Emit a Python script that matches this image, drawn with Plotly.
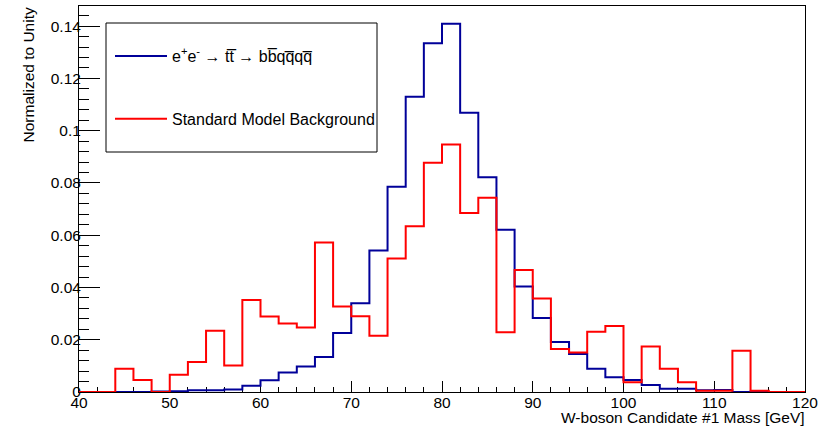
import plotly.graph_objects as go

# ---- data ----
bin_edges = list(range(40, 122, 2))  # 40..120, 2 GeV bins
signal_name = "e<sup>+</sup>e<sup>-</sup> \u2192 tt\u0305 \u2192 bb\u0305qq\u0305qq\u0305"
background_name = "Standard Model Background"
signal_vals = [0, 0, 0, 0, 0.0002, 0.0003, 0.0007, 0.0007, 0.0010, 0.0024,
               0.0045, 0.0075, 0.0098, 0.0134, 0.0226, 0.0340, 0.0541, 0.0785, 0.1130, 0.1334,
               0.1409, 0.1069, 0.0822, 0.0621, 0.0404, 0.0283, 0.0191, 0.0145, 0.0089, 0.0056,
               0.0046, 0.0027, 0.0012, 0.0012, 0.0007, 0.0008, 0.0000, 0.0002, 0, 0]
background_vals = [0, 0, 0.0089, 0.0046, 0, 0.0066, 0.0115, 0.0234, 0.0101, 0.0352,
                   0.0289, 0.0262, 0.0247, 0.0572, 0.0327, 0.0290, 0.0215, 0.0511, 0.0634, 0.0877,
                   0.0947, 0.0685, 0.0743, 0.0229, 0.0467, 0.0358, 0.0165, 0.0151, 0.0231, 0.0253,
                   0.0037, 0.0174, 0.0089, 0.0037, 0.0005, 0.0005, 0.0158, 0.0005, 0, 0]
x_tick_vals = [40, 50, 60, 70, 80, 90, 100, 110, 120]
y_tick_vals = [0, 0.02, 0.04, 0.06, 0.08, 0.10, 0.12, 0.14]
y_tick_text = ["0", "0.02", "0.04", "0.06", "0.08", "0.1", "0.12", "0.14"]
x_title = "W-boson Candidate #1 Mass [GeV]"
y_title = "Normalized to Unity"

# ---- layout geometry ----
W, H = 836, 426
L, R, T, B = 79, 31, 6, 34
PW, PH = W - L - R, H - T - B
FONT = "Liberation Sans, Arial, Helvetica, sans-serif"


def px(xp):
    return (xp - L) / PW


def py(yp):
    return (H - B - yp) / PH


def step(vals):
    return bin_edges, list(vals) + [vals[-1]]


fig = go.Figure()
sx, sy = step(signal_vals)
fig.add_trace(go.Scatter(x=sx, y=sy, mode="lines", line=dict(color="#000099", width=2, shape="hv"),
                         name=signal_name, legendgroup="a"))
bx, by = step(background_vals)
fig.add_trace(go.Scatter(x=bx, y=by, mode="lines", line=dict(color="#ff0000", width=2, shape="hv"),
                         name=background_name, legendgroup="b"))

fig.update_layout(
    width=W, height=H,
    margin=dict(l=L, r=R, t=T, b=B),
    paper_bgcolor="white", plot_bgcolor="white",
    font=dict(family=FONT, size=15.5, color="black"),
    showlegend=True,
    legend=dict(x=px(110), y=py(39), xanchor="left", yanchor="top",
                bgcolor="rgba(0,0,0,0)", borderwidth=0,
                font=dict(size=16, family=FONT), itemwidth=52, tracegroupgap=39),
    xaxis=dict(range=[40, 120], tickvals=x_tick_vals, ticks="inside", ticklen=11, tickwidth=1,
               tickcolor="black", showline=True, linecolor="black", linewidth=1, mirror=True,
               showgrid=False, zeroline=False, layer="below traces", automargin=False,
               ticklabelstandoff=-4,
               minor=dict(dtick=2, tick0=40, ticks="inside", ticklen=5, tickcolor="black", tickwidth=1, showgrid=False),
               tickfont=dict(size=15.5)),
    yaxis=dict(range=[0, 0.1477], tickvals=y_tick_vals, ticktext=y_tick_text, ticks="inside", ticklen=21,
               tickwidth=1, tickcolor="black", showline=True, linecolor="black", linewidth=1, mirror=True,
               showgrid=False, zeroline=False, layer="below traces", automargin=False,
               ticklabelstandoff=-6,
               minor=dict(dtick=0.004, tick0=0, ticks="inside", ticklen=10, tickcolor="black", tickwidth=1, showgrid=False),
               tickfont=dict(size=15.5)),
    shapes=[dict(type="rect", xref="paper", yref="paper", x0=px(106), x1=px(377), y0=py(152), y1=py(23),
                 line=dict(color="black", width=1), fillcolor="rgba(0,0,0,0)")],
    annotations=[
        dict(text=x_title, xref="paper", yref="paper", x=px(807), y=py(417), xanchor="right", yanchor="middle",
             showarrow=False, font=dict(size=15.5)),
        dict(text=y_title, xref="paper", yref="paper", x=px(28), y=py(6), xanchor="center", yanchor="top",
             textangle=-90, showarrow=False, font=dict(size=15.5)),
    ],
)

fig.write_html("out.html", config={"displayModeBar": False},
               post_script="document.body.style.margin='0';document.body.style.overflow='hidden';")
